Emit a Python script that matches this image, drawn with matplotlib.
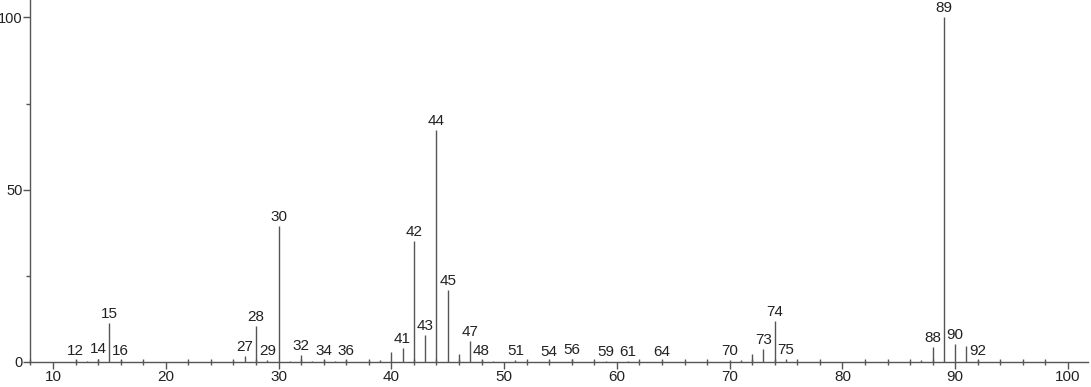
import matplotlib.pyplot as plt
from matplotlib.ticker import MultipleLocator

plt.rcParams['font.family'] = ['Liberation Sans', 'DejaVu Sans']

# m/z and relative intensity (%)
mz = [12, 13, 14, 15, 16, 26, 27, 28, 29, 30, 31, 32, 33, 34, 35, 36,
      38, 39, 40, 41, 42, 43, 44, 45, 46, 47, 48, 49, 51, 54, 56, 59,
      61, 64, 70, 71, 72, 73, 74, 75, 87, 88, 89, 90, 91, 92]
intensity = [0.6, 0.4, 1.0, 11.2, 0.6, 0.4, 1.7, 10.4, 0.6, 39.4, 0.4, 2.0, 0.3, 0.5, 0.3, 0.5,
             0.4, 0.5, 2.8, 4.0, 35.0, 7.8, 67.2, 20.9, 2.3, 6.1, 0.7, 0.4, 0.5, 0.4, 0.8, 0.4,
             0.4, 0.3, 0.5, 0.5, 2.3, 3.7, 12.0, 0.8, 0.6, 4.4, 100.0, 5.2, 4.6, 0.6]

labeled = [12, 14, 15, 16, 27, 28, 29, 30, 32, 34, 36, 41, 42, 43, 44, 45,
           47, 48, 51, 54, 56, 59, 61, 64, 70, 73, 74, 75, 88, 89, 90, 92]

fig = plt.figure(figsize=(10.91, 3.87), dpi=100)
ax = fig.add_axes([0.0275, 0.0646, 0.97, 0.935])

ax.vlines(mz, 0, intensity, color='#555555', linewidth=1.0)

for m, v in zip(mz, intensity):
    if m in labeled:
        ax.annotate(str(m), (m, v), xytext=(0, 1.5), textcoords='offset points',
                    ha='center', va='bottom', fontsize=11, color='#222222')

ax.set_xlim(7.96, 101.8)
ax.set_ylim(0, 105)
ax.set_xticks(range(10, 101, 10))
ax.xaxis.set_minor_locator(MultipleLocator(2))
ax.set_yticks([0, 50, 100])
ax.yaxis.set_minor_locator(MultipleLocator(25))

for s in ['top', 'right']:
    ax.spines[s].set_visible(False)
for s in ['left', 'bottom']:
    ax.spines[s].set_color('#555555')
    ax.spines[s].set_linewidth(1.0)

ax.tick_params(which='major', direction='out', length=5, width=1, color='#555555',
               labelsize=11, labelcolor='#222222', pad=1)
ax.tick_params(axis='y', which='major', labelsize=10.5, pad=0.3)
ax.tick_params(axis='x', which='minor', direction='inout', length=5, width=1, color='#555555')
ax.tick_params(axis='y', which='minor', direction='out', length=3, width=1, color='#555555')

fig.savefig('out.png', dpi=100)
